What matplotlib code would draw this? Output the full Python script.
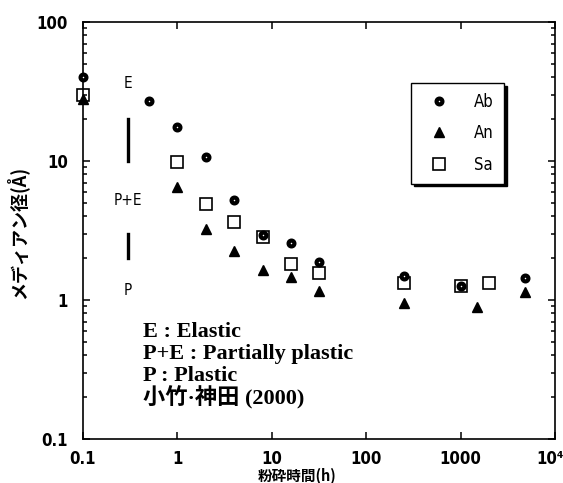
import matplotlib
matplotlib.use("Agg")
import matplotlib.pyplot as plt
import matplotlib.transforms as mtransforms
from matplotlib.ticker import FixedLocator, NullLocator, LogLocator

# ---- data ----
ab_x = [0.1, 0.5, 1, 2, 4, 8, 16, 32, 250, 1000, 4800]
ab_y = [40, 27, 17.6, 10.7, 5.2, 2.95, 2.55, 1.87, 1.5, 1.26, 1.44]
an_x = [0.1, 1, 2, 4, 8, 16, 32, 250, 1500, 4800]
an_y = [28, 6.5, 3.25, 2.25, 1.64, 1.46, 1.16, 0.95, 0.89, 1.15]
sa_x = [0.1, 1, 2, 4, 8, 16, 32, 250, 1000, 2000]
sa_y = [30, 9.9, 4.9, 3.65, 2.85, 1.82, 1.56, 1.33, 1.26, 1.33]
series_names = ["Ab", "An", "Sa"]
x_ticks = [0.1, 1, 10, 100, 1000, 10000]
x_ticklabels = ["0.1", "1", "10", "100", "1000", "10⁴"]
y_ticks = [0.1, 1, 10, 100]
y_ticklabels = ["0.1", "1", "10", "100"]
regime_labels = ["E", "P+E", "P"]
regime_y = [36, 5.2, 1.18]
regime_x = 0.3
bar_ranges = [(10, 20), (2, 3)]
note_lines = ["E : Elastic", "P+E : Partially plastic", "P : Plastic", "小竹·神田 (2000)"]
xlabel = "粉砕時間(h)"
ylabel = "メディアン径(Å)"

narrow = ["DejaVu Sans"]
cjk = ["Noto Sans CJK JP", "DejaVu Sans"]

fig = plt.figure(figsize=(5.63, 4.83), dpi=100)
ax = fig.add_axes([83/563, 44/483, 472/563, 417/483])
ax.set_xscale("log")
ax.set_yscale("log")
ax.set_xlim(0.1, 10000)
ax.set_ylim(0.1, 100)

ax.plot(ab_x, ab_y, linestyle="none", marker="o", markersize=4.2,
        markerfacecolor="white", markeredgecolor="black", markeredgewidth=3.0,
        label=series_names[0], clip_on=False, zorder=5)
ax.plot(an_x, an_y, linestyle="none", marker="^", markersize=6.5,
        color="black", label=series_names[1], clip_on=False, zorder=4)
ax.plot(sa_x, sa_y, linestyle="none", marker="s", markersize=8.5,
        markerfacecolor="none", markeredgecolor="black", markeredgewidth=1.2,
        label=series_names[2], clip_on=False, zorder=3)

for lo, hi in bar_ranges:
    ax.plot([regime_x, regime_x], [lo, hi], color="black", linewidth=2.4)
for lab, yy in zip(regime_labels, regime_y):
    ax.text(regime_x, yy, lab, ha="center", va="center", fontsize=11,
            family=narrow, fontstretch="condensed")

for i, line in enumerate(note_lines):
    fig.text(143/563, 1 - (332 + 22*i)/483, line, ha="left", va="center",
             fontsize=16, fontweight="bold",
             family=["Liberation Serif", "Noto Sans CJK JP"])

ax.xaxis.set_major_locator(FixedLocator(x_ticks))
ax.xaxis.set_minor_locator(NullLocator())
ax.set_xticklabels(x_ticklabels)
ax.yaxis.set_major_locator(FixedLocator(y_ticks))
ax.yaxis.set_minor_locator(LogLocator(base=10, subs=range(2, 10)))
ax.set_yticklabels(y_ticklabels)
ax.tick_params(which="both", direction="in", top=True, right=True, width=1.1)
ax.tick_params(which="major", length=5)
ax.tick_params(which="minor", length=3)
ax.tick_params(axis="x", which="major", pad=8)
ax.tick_params(axis="y", which="major", pad=11)
for lab in ax.get_xticklabels() + ax.get_yticklabels():
    lab.set_family(narrow)
    lab.set_fontweight("bold")
    lab.set_fontstretch("condensed")
    lab.set_fontsize(12)
for s in ax.spines.values():
    s.set_linewidth(1.2)

# nudge the last x tick label so it fits inside the canvas
last = ax.get_xticklabels()[-1]
offset = mtransforms.ScaledTranslation(-5/100, 0, fig.dpi_scale_trans)
last.set_transform(last.get_transform() + offset)

fig.text(297/563, 1 - 476/483, xlabel, ha="center", va="center", fontsize=10.5,
         fontweight="bold", family=cjk)
fig.text(17/563, 1 - 232/483, ylabel, ha="center", va="center", fontsize=13,
         fontweight="bold", family=cjk, rotation=90)

leg = ax.legend(loc="upper left", bbox_to_anchor=(0.695, 0.854),
                frameon=True, fancybox=False, edgecolor="black",
                shadow={"color": "black", "alpha": 1, "ox": 2, "oy": -2},
                prop={"family": narrow, "size": 12, "stretch": "condensed"},
                labelspacing=0.8, handletextpad=1.0, borderpad=0.6,
                handlelength=2.2, borderaxespad=0)
leg.get_frame().set_linewidth(1.0)

fig.savefig("out.png", dpi=100)
